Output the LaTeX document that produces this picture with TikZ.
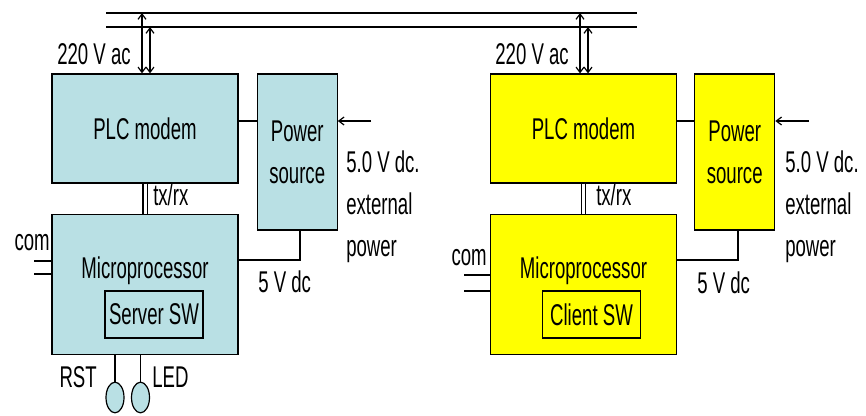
\documentclass[tikz,border=0pt]{standalone}
\usepackage{fontspec}
\setmainfont{Liberation Sans}[FakeStretch=0.62]
\usepackage{tikz}
\usetikzlibrary{positioning,arrows.meta,shapes.geometric}
\definecolor{B1}{RGB}{185,224,228}
\definecolor{Y1}{RGB}{255,255,0}

\begin{document}
\begin{tikzpicture}[x=0.75pt, y=-0.75pt,
  blk/.style={draw, line width=0.9pt, inner sep=0pt, align=center,
              font=\fontsize{22.5}{31.5}\selectfont},
  modem/.style={blk, minimum width=139.5pt, minimum height=81.75pt},
  micro/.style={blk, minimum width=139.5pt, minimum height=105pt},
  psu/.style={blk, minimum width=60pt, minimum height=117pt},
  sw/.style={blk, minimum width=73.5pt, minimum height=35.25pt},
  lbl/.style={inner sep=0pt, align=left, font=\fontsize{22.5}{31.5}\selectfont},
  wire/.style={line width=0.9pt},
  arr/.style={wire, -{Straight Barb[length=4pt,width=6pt]}},
  dblarr/.style={wire, {Straight Barb[length=4pt,width=6pt]}-{Straight Barb[length=4pt,width=6pt]}},
  txrx/.style={wire, double, double distance=2.25pt},
  btn/.style={draw, ellipse, line width=0.9pt, fill=B1, inner sep=0pt,
              minimum width=13.5pt, minimum height=23pt},
]
\useasboundingbox (0,0) rectangle (866,415);

\coordinate (busA1) at (106,13);
\coordinate (busA2) at (637,13);
\coordinate (busB1) at (106,27);
\coordinate (busB2) at (637,27);
\draw[wire] (busA1) -- (busA2);
\draw[wire] (busB1) -- (busB2);

\node[modem, fill=B1] (modemL) at (145,128.5) {PLC modem};
\node[micro, fill=B1, below=22.5pt of modemL] (microL) {};
\node[psu, fill=B1, right=13.5pt of modemL.north east, anchor=north west] (powL) {Power\\source};
\node[sw] (swL) at (154,314.5) {Server SW};
\node[btn] (rstL) at (115,397.5) {};
\node[btn] (ledL) at (140.5,397.5) {};

\node[modem, fill=Y1] (modemR) at (583.5,128.5) {PLC modem};
\node[micro, fill=Y1, below=22.5pt of modemR] (microR) {};
\node[psu, fill=Y1, right=12.75pt of modemR.north east, anchor=north west] (powR) {Power\\source};
\node[sw] (swR) at (591.5,314.5) {Client SW};

\node[lbl, anchor=base] (cpuL) at (145,278) {Microprocessor};
\node[lbl, anchor=base east] (acL) at (131,64) {220 V ac};
\node[lbl, anchor=base west] (txL) at (153,205) {tx/rx};
\node[lbl, anchor=north west] (extLtxt) at (346,150) {5.0 V dc.\\external\\power};
\node[lbl, anchor=base west] (dcLtxt) at (258,292) {5 V dc};
\node[lbl, anchor=base east] (comLtxt) at (50,250) {com};
\node[lbl, anchor=base east] (rstLtxt) at (97,387) {RST};
\node[lbl, anchor=base west] (ledLtxt) at (152,387) {LED};

\node[lbl, anchor=base] (cpuR) at (583.5,278) {Microprocessor};
\node[lbl, anchor=base east] (acR) at (569,64) {220 V ac};
\node[lbl, anchor=base west] (txR) at (596,205) {tx/rx};
\node[lbl, anchor=north west] (extRtxt) at (785,150) {5.0 V dc.\\external\\power};
\node[lbl, anchor=base west] (dcRtxt) at (697,293) {5 V dc};
\node[lbl, anchor=base east] (comRtxt) at (487,265) {com};

\coordinate (tapL1) at (142,13);
\coordinate (tapL2) at (150,27);
\coordinate (extL) at (371,121);
\coordinate (dcL) at (300,260);
\coordinate (comL1) at (34,261);
\coordinate (comL2) at (34,274);
\draw[dblarr] (tapL1) -- (tapL1 |- modemL.north);
\draw[dblarr] (tapL2) -- (tapL2 |- modemL.north);
\draw[txrx] (modemL.south) -- (microL.north);
\draw[wire] (extL -| modemL.east) -- (extL -| powL.west);
\draw[arr] (extL) -- (extL -| powL.east);
\draw[wire] (dcL -| microL.east) -| (dcL |- powL.south);
\draw[wire] (comL1) -- (comL1 -| microL.west);
\draw[wire] (comL2) -- (comL2 -| microL.west);
\draw[wire] (rstL) -- (rstL |- microL.south);
\draw[wire] (ledL) -- (ledL |- microL.south);

\coordinate (tapR1) at (580,13);
\coordinate (tapR2) at (588,27);
\coordinate (extR) at (809,121);
\coordinate (dcR) at (738,260);
\coordinate (comR1) at (464,275);
\coordinate (comR2) at (464,291);
\draw[dblarr] (tapR1) -- (tapR1 |- modemR.north);
\draw[dblarr] (tapR2) -- (tapR2 |- modemR.north);
\draw[txrx] (modemR.south) -- (microR.north);
\draw[wire] (extR -| modemR.east) -- (extR -| powR.west);
\draw[arr] (extR) -- (extR -| powR.east);
\draw[wire] (dcR -| microR.east) -| (dcR |- powR.south);
\draw[wire] (comR1) -- (comR1 -| microR.west);
\draw[wire] (comR2) -- (comR2 -| microR.west);
\end{tikzpicture}
\end{document}
